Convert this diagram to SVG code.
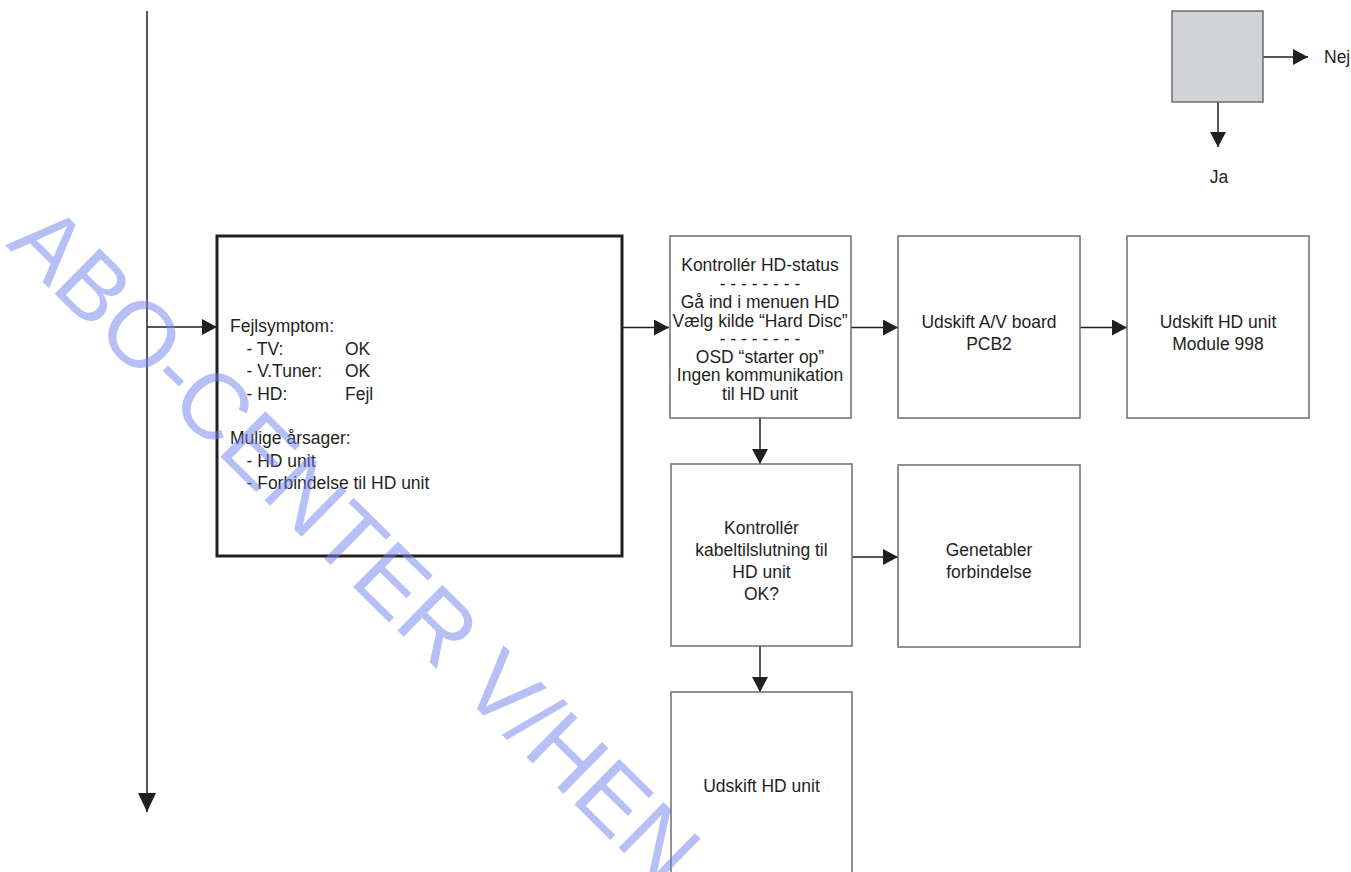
<svg xmlns="http://www.w3.org/2000/svg" width="1351" height="872" viewBox="0 0 1351 872">
<style>
text{font-family:"Liberation Sans",Arial,sans-serif;font-size:17.5px;fill:#231f20}
.c{text-anchor:middle}
.box{fill:none;stroke:#6d6e71;stroke-width:1.5}
.main{fill:none;stroke:#231f20;stroke-width:3}
.ln{fill:none;stroke:#231f20;stroke-width:1.5}
.wm{font-family:"Liberation Sans",Arial,sans-serif;font-size:93px;fill:#6f80f0;fill-opacity:0.5}
</style>
<defs>
<marker id="arr" markerUnits="userSpaceOnUse" markerWidth="15" markerHeight="16" viewBox="0 0 15 16" refX="15" refY="8" orient="auto"><path d="M0,0 L15,8 L0,16 z" fill="#231f20"/></marker>
<marker id="arrBig" markerUnits="userSpaceOnUse" markerWidth="19" markerHeight="18" viewBox="0 0 19 18" refX="19" refY="9" orient="auto"><path d="M0,0 L19,9 L0,18 z" fill="#231f20"/></marker>
</defs>
<rect width="1351" height="872" fill="#ffffff"/>

<g id="connectors">
<line class="ln" x1="147" y1="11" x2="147" y2="812" marker-end="url(#arrBig)"/>
<line class="ln" x1="147" y1="327" x2="217" y2="327" marker-end="url(#arr)"/>
<line class="ln" x1="622" y1="327.5" x2="669" y2="327.5" marker-end="url(#arr)"/>
<line class="ln" x1="851" y1="327.5" x2="898" y2="327.5" marker-end="url(#arr)"/>
<line class="ln" x1="1080" y1="327.5" x2="1127" y2="327.5" marker-end="url(#arr)"/>
<line class="ln" x1="760" y1="418" x2="760" y2="464" marker-end="url(#arr)"/>
<line class="ln" x1="852" y1="557" x2="898" y2="557" marker-end="url(#arr)"/>
<line class="ln" x1="760" y1="646" x2="760" y2="692" marker-end="url(#arr)"/>
<line class="ln" x1="1263" y1="57" x2="1308" y2="57" marker-end="url(#arr)"/>
<line class="ln" x1="1218" y1="102" x2="1218" y2="147" marker-end="url(#arr)"/>
</g>

<g id="legend">
<rect x="1172" y="11" width="91" height="91" fill="#d1d3d4" stroke="#6d6e71" stroke-width="1.5"/>
<text x="1324" y="63">Nej</text>
<text class="c" x="1219" y="183">Ja</text>
</g>

<g id="n-main">
<rect class="main" x="217" y="236" width="405" height="320"/>
<text x="230" y="332">Fejlsymptom:</text>
<text x="246.5" y="354.5">- TV:</text><text x="345" y="354.5">OK</text>
<text x="246.5" y="377">- V.Tuner:</text><text x="345" y="377">OK</text>
<text x="246.5" y="399.5">- HD:</text><text x="345" y="399.5">Fejl</text>
<text x="230" y="444">Mulige årsager:</text>
<text x="246.5" y="466.5">- HD unit</text>
<text x="246.5" y="489">- Forbindelse til HD unit</text>
</g>

<g id="n-status">
<rect class="box" x="670" y="236" width="181" height="182"/>
<text class="c" x="760" y="271">Kontrollér HD-status</text>
<text class="c" x="760" y="289.5">- - - - - - - -</text>
<text class="c" x="760" y="308">Gå ind i menuen HD</text>
<text class="c" x="760" y="326.5">Vælg kilde “Hard Disc”</text>
<text class="c" x="760" y="344.5">- - - - - - - -</text>
<text class="c" x="760" y="362.5">OSD “starter op”</text>
<text class="c" x="760" y="381">Ingen kommunikation</text>
<text class="c" x="760" y="399.5">til HD unit</text>
</g>

<g id="n-avboard">
<rect class="box" x="898" y="236" width="182" height="182"/>
<text class="c" x="989" y="328">Udskift A/V board</text>
<text class="c" x="989" y="350">PCB2</text>
</g>

<g id="n-hdmodule">
<rect class="box" x="1127" y="236" width="182" height="182"/>
<text class="c" x="1218" y="328">Udskift HD unit</text>
<text class="c" x="1218" y="350">Module 998</text>
</g>

<g id="n-kabel">
<rect class="box" x="671" y="464" width="181" height="182"/>
<text class="c" x="761.5" y="533.5">Kontrollér</text>
<text class="c" x="761.5" y="555.5">kabeltilslutning til</text>
<text class="c" x="761.5" y="578">HD unit</text>
<text class="c" x="761.5" y="600">OK?</text>
</g>

<g id="n-genetabler">
<rect class="box" x="898" y="465" width="182" height="182"/>
<text class="c" x="989" y="556">Genetabler</text>
<text class="c" x="989" y="578">forbindelse</text>
</g>

<g id="n-udskift">
<rect class="box" x="671" y="692" width="181" height="200"/>
<text class="c" x="761.5" y="791.5">Udskift HD unit</text>
</g>

<g id="watermark">
<text class="wm" x="0" y="0" transform="translate(5,245) rotate(44.5)">ABO-CENTER V/HEN</text>
</g>
</svg>
